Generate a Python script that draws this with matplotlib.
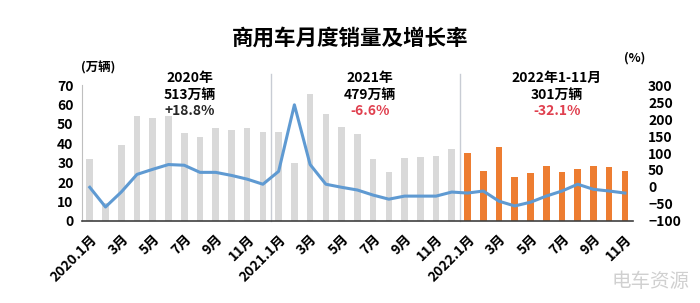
import numpy as np
import matplotlib
matplotlib.use("Agg")
import matplotlib.pyplot as plt

plt.rcParams['font.family'] = ['Noto Sans CJK SC', 'DejaVu Sans']

# monthly sales (万辆), 2020.1 - 2022.11
sales_2020 = [32, 9, 39, 54, 53, 54, 45.5, 43.5, 48, 47, 48, 46]
sales_2021 = [46, 30, 65.5, 55, 48.5, 45, 32, 25, 32.5, 33, 33.5, 37]
sales_2022 = [35, 25.5, 38, 22.5, 24.5, 28.5, 25, 26.5, 28.5, 28, 25.5]

# year-on-year growth (%)
growth = [-1, -59, -15, 37, 52, 66, 64, 43, 43, 34, 23, 8,
          46, 242, 66, 8, -1, -9, -24, -36, -27, -27, -27, -15,
          -18, -12, -42, -56, -45, -27, -12, 8, -7, -12, -18]

tick_labels = ["2020.1月", "3月", "5月", "7月", "9月", "11月",
               "2021.1月", "3月", "5月", "7月", "9月", "11月",
               "2022.1月", "3月", "5月", "7月", "9月", "11月"]

sales = sales_2020 + sales_2021 + sales_2022
n = len(sales)
x = np.arange(n)
colors = ["#d9d9d9"] * 24 + ["#ed7d31"] * 11

fig = plt.figure(figsize=(7, 3.03), dpi=100)
ax = fig.add_axes([0.117, 0.271, 0.787, 0.448])
ax.bar(x, sales, width=0.42, color=colors, zorder=2)
ax.set_xlim(-0.5, n - 0.5)
ax.set_ylim(0, 70)
ax.set_yticks(range(0, 71, 10))
ax.set_xticks(x[::2])
ax.set_xticklabels(tick_labels, rotation=45, ha="right", rotation_mode="anchor",
                   fontsize=9, fontweight="bold")
for s in ["top", "right"]:
    ax.spines[s].set_visible(False)
ax.spines["left"].set_color("#bfbfbf")
ax.spines["bottom"].set_color("#404040")
ax.spines["bottom"].set_linewidth(1.2)
ax.tick_params(axis="both", length=0, labelsize=10)
ax.tick_params(axis="x", pad=8)
ax.tick_params(axis="y", pad=6)
for lab in ax.get_yticklabels():
    lab.set_fontweight("bold")

# year separators
for xs in [11.5, 23.5]:
    ax.axvline(xs, ymin=0, ymax=1.08, color="#c8ccd4", lw=1, clip_on=False, zorder=1)

ax2 = ax.twinx()
ax2.plot(x, growth, color="#5f9ad2", lw=2.2, zorder=3)
ax2.set_ylim(-100, 300)
ax2.set_yticks(range(-100, 301, 50))
for s in ["top", "right", "left", "bottom"]:
    ax2.spines[s].set_visible(False)
ax2.tick_params(axis="y", length=0, labelsize=10, pad=11)
for lab in ax2.get_yticklabels():
    lab.set_fontweight("bold")

fig.text(0.5, 0.875, "商用车月度销量及增长率", ha="center", va="center",
         fontsize=15.5, fontweight="bold")
fig.text(0.14, 0.775, "(万辆)", ha="center", va="center", fontsize=9, fontweight="bold")
fig.text(0.907, 0.81, "(%)", ha="center", va="center", fontsize=9, fontweight="bold")

notes = [(190, "2020年", "513万辆", "+18.8%", "#262626"),
         (370, "2021年", "479万辆", "-6.6%", "#e0404f"),
         (557, "2022年1-11月", "301万辆", "-32.1%", "#e0404f")]
for px, l1, l2, l3, c3 in notes:
    fx = px / 700
    fig.text(fx, 1 - 78 / 303, l1, ha="center", va="center", fontsize=10, fontweight="bold")
    fig.text(fx, 1 - 95 / 303, l2, ha="center", va="center", fontsize=10, fontweight="bold")
    fig.text(fx, 1 - 111 / 303, l3, ha="center", va="center", fontsize=10,
             fontweight="bold", color=c3)

fig.text(0.985, 0.07, "电车资源", ha="right", va="center", fontsize=14, color="#d0d0d0")

fig.savefig("out.png", dpi=100)
